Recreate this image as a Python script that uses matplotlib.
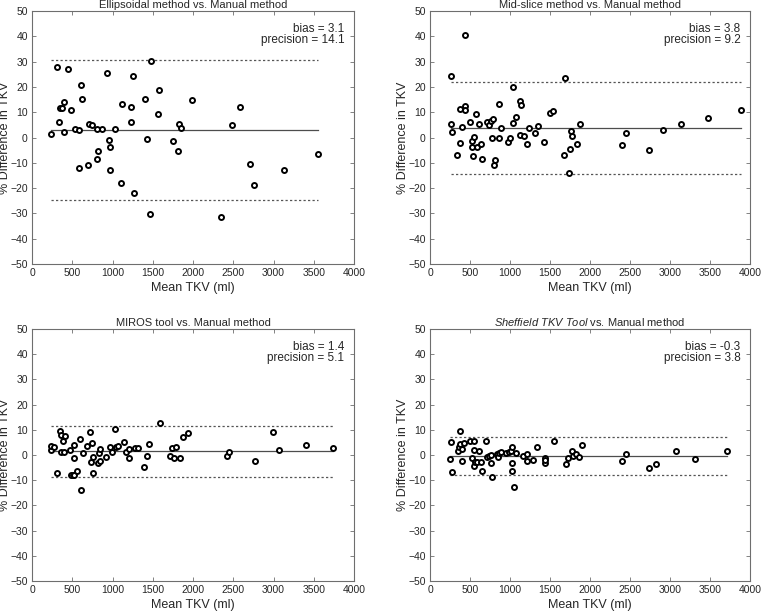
import matplotlib
matplotlib.use("Agg")
import matplotlib.pyplot as plt
import numpy as np

plt.rcParams['font.family'] = ['Liberation Sans', 'DejaVu Sans']
plt.rcParams['mathtext.fontset'] = 'custom'
plt.rcParams['mathtext.it'] = 'Liberation Sans:italic'
plt.rcParams['mathtext.rm'] = 'Liberation Sans'

titles = ["Ellipsoidal method vs. Manual method",
          "Mid-slice method vs. Manual method",
          "MIROS tool vs. Manual method",
          r"$\mathit{Sheffield\ TKV\ Tool}$ vs. Manual method"]
biases = [3.1, 3.8, 1.4, -0.3]
precisions = [14.1, 9.2, 5.1, 3.8]

ell_x = [232, 307, 337, 395, 349, 374, 399, 446, 487, 534, 584, 588, 605, 622, 701, 714, 743, 802, 802,
         818, 873, 932, 953, 969, 974, 1036, 1103, 1124, 1229, 1229, 1250, 1267, 1405, 1430, 1463, 1480,
         1568, 1577, 1749, 1808, 1825, 1854, 1988, 2348, 2482, 2578, 2708, 2754, 3127, 3559]
ell_y = [1.2, 27.9, 6.0, 2.0, 11.5, 11.5, 14.0, 27.1, 10.7, 3.4, 2.9, -12.0, 20.8, 15.3, -10.7, 5.4, 5.0,
         3.4, -8.6, -5.2, 3.4, 25.4, -1.1, -12.8, -3.7, 3.4, -18.1, 13.1, 12.0, 6.2, 24.5, -21.8, 15.2,
         -0.4, -30.2, 30.4, 9.4, 18.7, -1.2, -5.2, 5.4, 3.7, 14.8, -31.6, 5.0, 12.0, -10.4, -18.9, -13.0, -6.6]

mid_x = [262, 279, 262, 333, 371, 379, 400, 437, 437, 437, 500, 521, 529, 550, 542, 571, 583, 608, 637,
         646, 708, 737, 762, 787, 775, 796, 817, 858, 858, 892, 971, 1000, 1038, 1038, 1079, 1125, 1129,
         1138, 1175, 1213, 1233, 1308, 1350, 1429, 1500, 1534, 1675, 1692, 1746, 1733, 1763, 1775, 1842,
         1879, 2404, 2454, 2733, 2917, 3134, 3475, 3884]
mid_y = [24.3, 2.0, 5.3, -7.1, -2.1, 11.3, 4.2, 12.6, 10.7, 40.7, 6.3, -3.9, -1.5, 0.3, -7.4, 9.1, -3.7,
         5.3, -2.7, -8.6, 6.2, 4.9, 6.5, 7.3, 0.0, -10.9, -9.0, 13.3, 0.0, 3.7, -1.9, -0.2, 19.8, 5.9, 8.3,
         0.8, 14.6, 12.7, 0.4, -2.5, 3.8, 1.8, 4.6, -1.7, 9.8, 10.6, -6.8, 23.5, -4.6, -14.0, 2.5, 0.5,
         -2.5, 5.3, -3.1, 1.6, -5.0, 3.0, 5.5, 7.9, 10.8]

miros_x = [232, 236, 270, 316, 353, 358, 358, 383, 399, 404, 471, 483, 508, 521, 525, 517, 559, 592, 609,
           630, 680, 726, 730, 743, 760, 760, 818, 827, 839, 848, 919, 974, 990, 1036, 1045, 1066, 1137,
           1170, 1204, 1208, 1284, 1317, 1397, 1434, 1455, 1594, 1715, 1744, 1765, 1786, 1836, 1878, 1933,
           2419, 2448, 2767, 2997, 3069, 3404, 3735]
miros_y = [2.0, 3.4, 3.2, -7.3, 9.4, 7.9, 1.1, 5.7, 1.2, 7.5, 1.9, -8.1, -8.1, 4.1, -1.1, -7.8, -6.3, 6.5,
           -13.9, 0.7, 3.6, 9.0, -2.8, 4.8, -7.0, -0.7, -3.0, 0.7, -2.4, 2.5, -0.7, 3.0, 1.1, 10.3, 3.3,
           3.6, 5.3, 1.3, 2.4, -1.1, 2.6, 2.6, -4.6, -0.5, 4.5, 12.6, -0.5, 2.8, -1.3, 3.3, -1.3, 7.3, 8.6,
           -0.3, 1.3, -2.2, 9.3, 1.9, 4.1, 2.9]

sheff_x = [254, 262, 279, 346, 363, 379, 379, 400, 404, 421, 496, 529, 546, 550, 554, 558, 587, 608, 637,
           654, 704, 708, 742, 758, 762, 771, 837, 846, 867, 883, 950, 983, 1008, 1021, 1021, 1025, 1054,
           1075, 1167, 1208, 1213, 1283, 1333, 1433, 1438, 1433, 1554, 1700, 1725, 1779, 1783, 1829, 1858,
           1904, 2404, 2450, 2733, 2821, 3075, 3317, 3717]
sheff_y = [-1.5, 5.0, -6.9, 1.5, 3.2, 4.4, 9.4, 2.5, -2.4, 4.9, 5.4, -1.3, 5.4, 1.8, -4.2, -2.6, -2.8, 1.6,
           -2.9, -6.5, 5.4, -0.9, -0.4, -3.3, 0.1, -8.6, 0.5, -0.7, 0.8, 1.1, 0.8, 1.2, 1.5, -3.0, -6.3,
           3.3, -12.7, 0.7, -0.3, 0.5, -2.2, -1.8, 3.3, -1.1, -3.2, -1.8, 5.4, -3.6, -1.2, 1.6, -0.5, 0.3,
           -0.8, 4.1, -2.2, 0.5, -5.0, -3.4, 1.6, -1.7, 1.6]

xs = [ell_x, mid_x, miros_x, sheff_x]
ys = [ell_y, mid_y, miros_y, sheff_y]

xticks = [0, 500, 1000, 1500, 2000, 2500, 3000, 3500, 4000]
yticks = [-50, -40, -30, -20, -10, 0, 10, 20, 30, 40, 50]

W, H = 762, 614
fig = plt.figure(figsize=(W / 100, H / 100), dpi=100)
fig.patch.set_facecolor('white')

# axes boxes in pixels: left, top, right, bottom
boxes = [(32, 11, 354, 264), (430, 11, 750, 264), (32, 329, 354, 581), (430, 329, 750, 581)]

axc = '#6e6e6e'
txc = '#262626'
for i, (l, t, r, b) in enumerate(boxes):
    ax = fig.add_axes([l / W, 1 - b / H, (r - l) / W, (b - t) / H])
    x = np.array(xs[i]); y = np.array(ys[i])
    bias = biases[i]; prec = precisions[i]
    x0, x1 = x.min(), x.max()
    ax.plot([x0, x1], [bias, bias], color='#4d4d4d', lw=0.9, zorder=1)
    for s in (1, -1):
        v = bias + s * 1.96 * prec
        ax.plot([x0, x1], [v, v], color='#555555', lw=0.9, ls=(0, (1.8, 1.8)), zorder=1)
    ax.plot(x, y, 'o', ms=3.6, mfc='white', mec='black', mew=1.4, ls='none', zorder=3)
    ax.set_xlim(0, 4000)
    ax.set_ylim(-50, 50)
    ax.set_xticks(xticks)
    ax.set_yticks(yticks)
    ax.tick_params(direction='in', length=3, width=0.6, colors=axc, labelcolor=txc,
                   labelsize=7.5, top=True, right=True, pad=3)
    for sp in ax.spines.values():
        sp.set_color(axc)
        sp.set_linewidth(0.8)
    ax.set_title(titles[i], fontsize=8, color=txc, pad=2.5)
    ax.set_xlabel('Mean TKV (ml)', fontsize=9, color=txc, labelpad=3)
    ax.set_ylabel('% Difference in TKV', fontsize=9, color=txc)
    ax.yaxis.set_label_coords(-21 / (r - l), 0.5)
    ax.text(0.97, 0.93, 'bias = %.1f' % bias, transform=ax.transAxes, ha='right', va='center',
            fontsize=8.5, color=txc)
    ax.text(0.97, 0.885, 'precision = %.1f' % prec, transform=ax.transAxes, ha='right', va='center',
            fontsize=8.5, color=txc)

fig.savefig('out.png', dpi=100, facecolor='white')
